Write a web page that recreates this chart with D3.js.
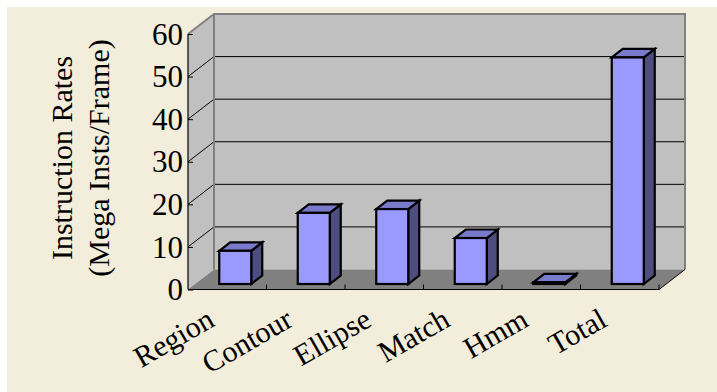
<!DOCTYPE html>
<html>
<head>
<meta charset="utf-8">
<script src="https://cdn.jsdelivr.net/npm/d3@7/dist/d3.min.js"></script>
<style>
html, body { margin: 0; padding: 0; background: #fff; }
svg { display: block; }
text { font-family: "Liberation Serif", serif; fill: #000; }
</style>
</head>
<body>
<svg id="chart" width="717" height="392"></svg>
<script>
const categories = ["Region", "Contour", "Ellipse", "Match", "Hmm", "Total"];
const instructionRates = [7.8, 16.7, 17.6, 10.8, 0.4, 53.2];
const yTicks = [0, 10, 20, 30, 40, 50, 60];
const yTitleLines = ["Instruction Rates", "(Mega Insts/Frame)"];

const svg = d3.select("#chart");
const frontLeft = 188, frontRight = 659, frontBase = 289.5, frontTop = 34;
const depthX = 26, depthY = -20;
const barDepthX = 11, barDepthY = -8.5, barShiftX = 5.5, barShiftY = -5.5;

const x = d3.scaleBand().domain(categories).range([frontLeft, frontRight]).paddingInner(0).paddingOuter(0);
const y = d3.scaleLinear().domain([0, 60]).range([frontBase, frontTop]);
const poly = pts => "M" + pts.map(p => p.join(",")).join("L") + "Z";

// Panel background
svg.append("rect").attr("x", 7).attr("y", 7).attr("width", 710).attr("height", 385).attr("fill", "#f2eedb");

// Back wall, side wall and floor
const wallGrey = "#c0c0c0", edgeGrey = "#808080";
svg.append("path").attr("fill", wallGrey)
  .attr("d", poly([[frontLeft, y(0)], [frontLeft, y(60)], [frontLeft + depthX, y(60) + depthY], [frontLeft + depthX, y(0) + depthY]]));
svg.append("rect").attr("fill", wallGrey)
  .attr("x", frontLeft + depthX).attr("y", y(60) + depthY)
  .attr("width", frontRight - frontLeft).attr("height", y(0) - y(60));
svg.append("path").attr("fill", edgeGrey)
  .attr("d", poly([[frontLeft, y(0)], [frontLeft + depthX, y(0) + depthY], [frontRight + depthX, y(0) + depthY], [frontRight, y(0)]]));

// Gridlines run along the back wall and fold down the side wall
yTicks.filter(t => t > 0 && t < 60).forEach(t => {
  svg.append("path").attr("fill", "none").attr("stroke", "#000").attr("stroke-width", 1)
    .attr("d", `M${frontLeft},${y(t)}L${frontLeft + depthX},${y(t) + depthY}L${frontRight + depthX},${y(t) + depthY}`);
});

// Wall outlines
svg.append("path").attr("fill", "none").attr("stroke", edgeGrey).attr("stroke-width", 2)
  .attr("d", `M${frontLeft},${y(60)}L${frontLeft + depthX},${y(60) + depthY}L${frontRight + depthX},${y(60) + depthY}L${frontRight + depthX},${y(0) + depthY}`);
svg.append("path").attr("fill", "none").attr("stroke", edgeGrey).attr("stroke-width", 2)
  .attr("d", `M${frontLeft + depthX},${y(60) + depthY}L${frontLeft + depthX},${y(0) + depthY}`);
svg.append("path").attr("fill", "none").attr("stroke", "#000").attr("stroke-width", 1)
  .attr("d", `M${frontRight},${y(0)}L${frontRight + depthX},${y(0) + depthY}`);

// Value axis
const yAxis = svg.append("g").attr("transform", `translate(${frontLeft},0)`)
  .call(d3.axisLeft(y).tickValues(yTicks).tickSize(5).tickPadding(0));
yAxis.selectAll("line").attr("stroke", "#000").attr("transform", "translate(5,0)");
yAxis.select(".domain").attr("stroke", "#000").attr("stroke-width", 1.2).attr("d", `M0,${y(60)}V${y(0)}`);
yAxis.selectAll("text").attr("font-size", 31).attr("font-family", "Liberation Serif").attr("dy", "0.33em");

// Category axis with ticks rising into the floor
const xAxis = svg.append("g").attr("transform", `translate(0,${y(0)})`);
xAxis.append("line").attr("x1", frontLeft).attr("x2", frontRight).attr("stroke", "#000").attr("stroke-width", 1.2);
xAxis.selectAll("line.tick").data(categories).join("line").attr("class", "tick")
  .attr("x1", d => x(d) + x.step()).attr("x2", d => x(d) + x.step())
  .attr("y1", -5).attr("y2", 0).attr("stroke", "#000");

// Bars: side, top, then front face
const bars = svg.append("g").selectAll("g").data(categories).join("g")
  .attr("stroke", "#000").attr("stroke-width", 2.2).attr("stroke-linejoin", "miter");
const barX = d => x(d) + x.step() / 2 - 16 + barShiftX + 2.5;
const barW = 32;
const barTop = i => y(instructionRates[i]) + barShiftY;
const barBase = y(0) + barShiftY;
bars.append("path").attr("fill", "#4d4d80")
  .attr("d", (d, i) => poly([[barX(d) + barW, barTop(i)], [barX(d) + barW + barDepthX, barTop(i) + barDepthY], [barX(d) + barW + barDepthX, barBase + barDepthY], [barX(d) + barW, barBase]]));
bars.append("path").attr("fill", "#7a7acc")
  .attr("d", (d, i) => poly([[barX(d), barTop(i)], [barX(d) + barDepthX, barTop(i) + barDepthY], [barX(d) + barW + barDepthX, barTop(i) + barDepthY], [barX(d) + barW, barTop(i)]]));
bars.append("rect").attr("fill", "#9999ff")
  .attr("x", d => barX(d)).attr("y", (d, i) => barTop(i))
  .attr("width", barW).attr("height", (d, i) => barBase - barTop(i));

// Rotated category labels
svg.append("g").selectAll("text").data(categories).join("text")
  .attr("font-size", 30).attr("text-anchor", "end")
  .attr("transform", d => `translate(${x(d) + x.step() / 2 - 11},325) rotate(-30)`)
  .text(d => d);

// Two-line value-axis title
svg.append("g").selectAll("text").data(yTitleLines).join("text")
  .attr("font-size", 30).attr("text-anchor", "middle")
  .attr("transform", (d, i) => `translate(${72 + i * 37},158) rotate(-90)`)
  .text(d => d);
</script>
</body>
</html>
